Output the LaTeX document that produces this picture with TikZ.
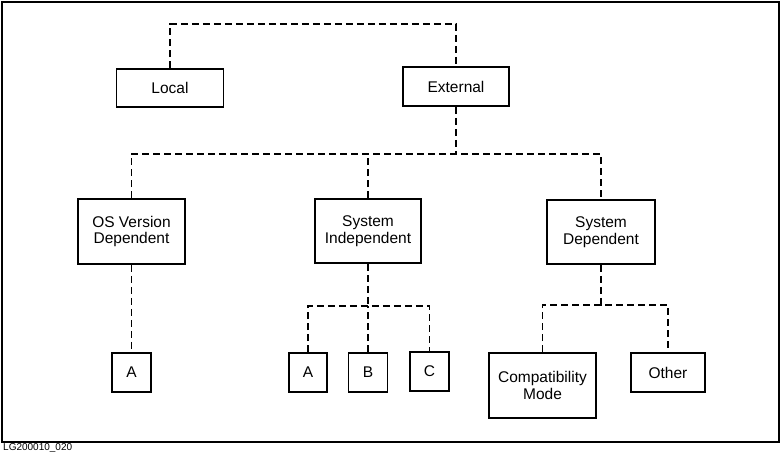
\documentclass[tikz,border=0pt]{standalone}
\usepackage{fontspec}
\setmainfont{Liberation Sans}
\tikzset{
  box/.style={draw, line width=1.9pt, inner sep=0pt, align=center,
    font=\fontsize{15.5}{16.5}\selectfont},
  link/.style={line width=1.8pt, dash pattern=on 7pt off 4pt}
}
\begin{document}
\begin{tikzpicture}[x=1pt,y=-1pt]
\useasboundingbox (0,0) rectangle (782,455);

\draw[line width=2pt] (2,2) rectangle (779,442); % Outer frame
\node[anchor=west, inner sep=1pt, font=\fontsize{10}{11}\selectfont] (tag) at (2,448) {LG200010\_020};

% Top level
\node[box, minimum width=107pt, minimum height=38pt] (local) at (170,88) {Local};
\node[box, minimum width=106pt, minimum height=39pt] (external) at (456,86.5) {External};

% Second level
\node[box, minimum width=107pt, minimum height=65pt] (osver) at (131.5,231.5) {OS Version\\Dependent};
\node[box, minimum width=106pt, minimum height=64pt] (sysind) at (368,231) {System\\Independent};
\node[box, minimum width=108pt, minimum height=64pt] (sysdep) at (601,232) {System\\Dependent};

% Leaves
\node[box, minimum width=39pt, minimum height=39pt] (osa) at (131.5,372.5) {A};
\node[box, minimum width=38pt, minimum height=39pt] (sia) at (308,372.5) {A};
\node[box, minimum width=39pt, minimum height=39pt] (sib) at (368,372.5) {B};
\node[box, minimum width=39pt, minimum height=39pt] (sic) at (429.5,371.5) {C};
\node[box, minimum width=107pt, minimum height=65pt] (compat) at (542.5,385.5) {Compatibility\\Mode};
\node[box, minimum width=74pt, minimum height=39pt] (other) at (668,372.5) {Other};

% Split points
\coordinate (topbar) at (300,24);
\coordinate (extbar) at (456,154);
\coordinate (sibar) at (368,306);
\coordinate (sdbar) at (601,305);

% Connectors
\draw[link] (local.north) |- (topbar) -| (external.north);
\draw[link] (external.south) -- (extbar);
\draw[link] (osver.north) |- (extbar) -| (sysdep.north);
\draw[link] (sysind.north) -- (sysind.north |- extbar);
\draw[link] (osver.south) -- (osa.north);
\draw[link] (sysind.south) -- (sibar);
\draw[link] (sia.north) |- (sibar) -| (sic.north);
\draw[link] (sib.north) -- (sibar);
\draw[link] (sysdep.south) -- (sdbar);
\draw[link] (compat.north) |- (sdbar) -| (other.north);
\end{tikzpicture}
\end{document}
